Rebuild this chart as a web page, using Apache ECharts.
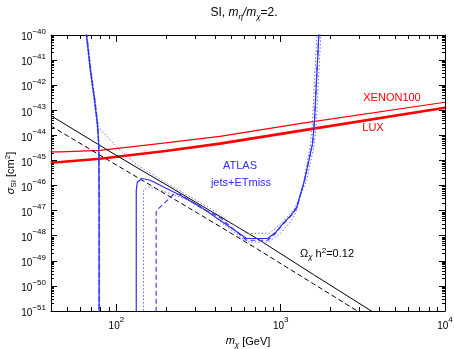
<!DOCTYPE html>
<html>
<head>
<meta charset="utf-8">
<script src="https://cdn.jsdelivr.net/npm/echarts@6/dist/echarts.min.js"></script>
<style>
html, body { margin: 0; padding: 0; background: #ffffff; }
#chart { width: 454px; height: 349px; }
</style>
</head>
<body>
<div id="chart"></div>
<script>
// all points are [log10(m_chi / GeV), log10(sigma_SI / cm^2)]
const xenon100 = [[1.60, -44.66], [1.66, -44.66], [1.90, -44.60], [2.30, -44.30], [2.63, -44.04], [3.115, -43.53], [4.0, -42.68]]
const lux = [[1.60, -45.08], [1.66, -45.06], [1.90, -44.93], [2.30, -44.62], [2.63, -44.33], [3.115, -43.82], [4.0, -42.90]]
const relicSolid = [[1.60, -43.21], [2.0, -44.80], [2.5, -46.73], [2.855, -48.11], [3.2, -49.55], [3.552, -51.0], [3.70, -51.6]]
const relicDashed = [[1.60, -43.62], [2.0, -45.18], [2.5, -47.12], [2.855, -48.52], [3.2, -49.92], [3.467, -51.0], [3.60, -51.5]]
const atlasSolid = [
  [1.811, -39.6], [1.842, -41.41], [1.867, -42.60], [1.885, -43.60], [1.893, -44.40], [1.895, -46.59], [1.895, -51.5],
  [2.121, -51.5], [2.121, -46.19], [2.127, -45.87], [2.156, -45.72], [2.206, -45.79], [2.327, -46.19], [2.388, -46.39],
  [2.509, -46.83], [2.691, -47.65], [2.792, -48.11], [2.921, -48.11], [2.970, -47.86], [3.006, -47.58], [3.067, -47.15],
  [3.097, -46.87], [3.145, -45.79], [3.194, -44.32], [3.206, -43.40], [3.218, -41.81], [3.232, -40.01], [3.236, -39.6]
]
const atlasDottedUp = [
  [1.815, -39.6], [1.846, -41.41], [1.871, -42.60], [1.889, -43.60], [1.897, -43.72], [1.964, -44.20], [2.024, -44.59],
  [2.127, -45.19], [2.358, -46.11], [2.570, -46.91], [2.792, -47.90], [2.933, -47.90], [3.012, -47.46], [3.085, -46.91],
  [3.115, -46.47], [3.158, -45.79], [3.206, -44.32], [3.218, -43.40], [3.230, -41.81], [3.244, -40.01], [3.248, -39.6]
]
const atlasDottedLow = [
  [1.808, -39.6], [1.839, -41.41], [1.864, -42.60], [1.882, -43.60], [1.891, -44.40], [1.893, -46.59], [1.893, -51.5],
  [2.165, -51.5], [2.165, -46.19], [2.196, -46.05], [2.327, -46.32], [2.428, -46.55], [2.570, -47.11], [2.792, -48.25],
  [2.923, -48.25], [2.994, -47.94], [3.067, -47.38], [3.097, -47.02], [3.139, -45.90], [3.182, -44.32], [3.194, -43.40],
  [3.206, -41.81], [3.220, -40.01], [3.224, -39.6]
]
const atlasDashed = [
  [1.813, -39.6], [1.844, -41.41], [1.869, -42.60], [1.887, -43.60], [1.894, -44.40], [1.896, -46.59], [1.896, -51.5],
  [2.242, -51.5], [2.242, -47.05], [2.256, -46.92], [2.347, -46.36], [2.388, -46.35], [2.509, -46.87], [2.630, -47.27],
  [2.792, -48.18], [2.921, -48.18], [2.970, -47.90], [3.006, -47.60], [3.067, -47.18], [3.097, -46.90], [3.145, -45.80],
  [3.194, -44.33], [3.206, -43.40], [3.218, -41.81], [3.232, -40.01], [3.236, -39.6]
]
const xMajor = [2, 3, 4]
const xMinor = [50, 60, 70, 80, 90, 200, 300, 400, 500, 600, 700, 800, 900, 2000, 3000, 4000, 5000, 6000, 7000, 8000, 9000].map(v => Math.log10(v))
const yMajor = [-51, -50, -49, -48, -47, -46, -45, -44, -43, -42, -41, -40]
const yMinor = []
for (let d = -51; d < -40; d++) {
  for (let k = 2; k <= 9; k++) yMinor.push(d + Math.log10(k))
}

const BLUE = '#2f2ff2'
const LBLUE = '#6b6bff'
const font = 'Liberation Sans, Arial, sans-serif'
const pow = {
  b: { fontSize: 10, fontFamily: font, color: '#000', lineHeight: 15, verticalAlign: 'bottom' },
  s: { fontSize: 8, fontFamily: font, color: '#000', lineHeight: 15, verticalAlign: 'top' }
}

function xAx (pos, ticks, len, label, line) {
  return {
    type: 'value', min: Math.log10(40), max: 4, position: pos,
    axisLine: { show: line, onZero: false, lineStyle: { color: '#000', width: 1 } },
    axisTick: { show: true, inside: true, length: len, customValues: ticks, lineStyle: { color: '#000', width: 1 } },
    axisLabel: label ? {
      show: true, customValues: ticks, margin: 5,
      formatter: v => '{b|10}{s|' + Math.round(v) + '}', rich: pow
    } : { show: false },
    splitLine: { show: false }
  }
}
function yAx (pos, ticks, len, label, line) {
  return {
    type: 'value', min: -51, max: -40, position: pos,
    axisLine: { show: line, onZero: false, lineStyle: { color: '#000', width: 1 } },
    axisTick: { show: true, inside: true, length: len, customValues: ticks, lineStyle: { color: '#000', width: 1 } },
    axisLabel: label ? {
      show: true, customValues: ticks, margin: 5,
      formatter: v => '{b|10}{s|\u2212' + Math.abs(Math.round(v)) + '}', rich: pow
    } : { show: false },
    splitLine: { show: false }
  }
}

const xAxes = [xAx('bottom', xMajor, 7, true, true), xAx('bottom', xMinor, 4, false, false),
  xAx('top', xMajor, 7, false, true), xAx('top', xMinor, 4, false, false)]
xAxes[0].name = '{i|m}{sub|\u03c7} [GeV]'
xAxes[0].nameLocation = 'middle'
xAxes[0].nameGap = 24
xAxes[0].nameMoveOverlap = false
xAxes[0].nameTextStyle = {
  fontSize: 11, fontFamily: font, color: '#000',
  rich: {
    i: { fontSize: 11, fontStyle: 'italic', fontFamily: font, lineHeight: 14, verticalAlign: 'top' },
    sub: { fontSize: 8, fontStyle: 'italic', fontFamily: font, lineHeight: 14, verticalAlign: 'bottom' }
  }
}
const yAxes = [yAx('left', yMajor, 6, true, true), yAx('left', yMinor, 3, false, false),
  yAx('right', yMajor, 6, false, true), yAx('right', yMinor, 3, false, false)]
yAxes[0].name = '{i|\u03c3}{sub|SI} [cm{sup|2}]'
yAxes[0].nameLocation = 'middle'
yAxes[0].nameRotate = 90
yAxes[0].nameGap = 33
yAxes[0].nameMoveOverlap = false
yAxes[0].nameTextStyle = {
  fontSize: 11, fontFamily: font, color: '#000',
  rich: {
    i: { fontSize: 11, fontStyle: 'italic', fontFamily: font, lineHeight: 14 },
    sub: { fontSize: 8, fontFamily: font, lineHeight: 14, verticalAlign: 'bottom' },
    sup: { fontSize: 8, fontFamily: font, lineHeight: 14, verticalAlign: 'top' }
  }
}

function line (name, data, color, width, type, z) {
  return {
    name: name, type: 'line', data: data, showSymbol: false, symbol: 'none',
    xAxisIndex: 0, yAxisIndex: 0, clip: true, z: z, animation: false,
    lineStyle: { color: color, width: width, type: type }
  }
}

const chart = echarts.init(document.getElementById('chart'))
chart.setOption({
  backgroundColor: '#ffffff',
  animation: false,
  grid: { left: 51, right: 9, top: 35, bottom: 38, containLabel: false, outerBoundsMode: 'none' },
  xAxis: xAxes,
  yAxis: yAxes,
  series: [
    line('XENON100', xenon100, '#ff0000', 1.2, 'solid', 2),
    line('LUX', lux, '#ff0000', 2.6, 'solid', 2),
    line('relic', relicSolid, '#000', 1, 'solid', 3),
    line('relic2', relicDashed, '#000', 1, [5, 3], 3),
    line('atlasDotUp', atlasDottedUp, LBLUE, 1, [1.5, 2], 4),
    line('atlasDotLow', atlasDottedLow, LBLUE, 1, [1.5, 2], 4),
    line('atlasDash', atlasDashed, BLUE, 1.1, [5, 3], 4),
    line('atlas', atlasSolid, BLUE, 1.2, 'solid', 5)
  ],
  graphic: [
    { type: 'text', x: 244, y: 13, style: {
      text: 'SI, {i|m}{s|\u03b7}{i|/m}{s|\u03c7}=2.', align: 'center', verticalAlign: 'middle',
      fontSize: 12, fontFamily: font, fill: '#000',
      rich: {
        i: { fontSize: 12, fontStyle: 'italic', fontFamily: font, lineHeight: 16 },
        s: { fontSize: 8, fontStyle: 'italic', fontFamily: font, lineHeight: 16, verticalAlign: 'bottom' }
      } } },
    { type: 'text', x: 392, y: 98, style: { text: 'XENON100', align: 'center', verticalAlign: 'middle', fontSize: 11, fontFamily: font, fill: '#ff0000' } },
    { type: 'text', x: 373, y: 128, style: { text: 'LUX', align: 'center', verticalAlign: 'middle', fontSize: 11, fontFamily: font, fill: '#ff0000' } },
    { type: 'text', x: 240, y: 166, style: { text: 'ATLAS', align: 'center', verticalAlign: 'middle', fontSize: 11, fontFamily: font, fill: BLUE } },
    { type: 'text', x: 241, y: 183, style: { text: 'jets+ETmiss', align: 'center', verticalAlign: 'middle', fontSize: 11, fontFamily: font, fill: BLUE } },
    { type: 'text', x: 327, y: 254, style: {
      text: '\u03a9{s|\u03c7} h{p|2}=0.12', align: 'center', verticalAlign: 'middle', fontSize: 11, fontFamily: font, fill: '#000',
      rich: {
        s: { fontSize: 8, fontStyle: 'italic', fontFamily: font, lineHeight: 14, verticalAlign: 'bottom' },
        p: { fontSize: 8, fontFamily: font, lineHeight: 14, verticalAlign: 'top' }
      } } }
  ]
})
</script>
</body>
</html>
